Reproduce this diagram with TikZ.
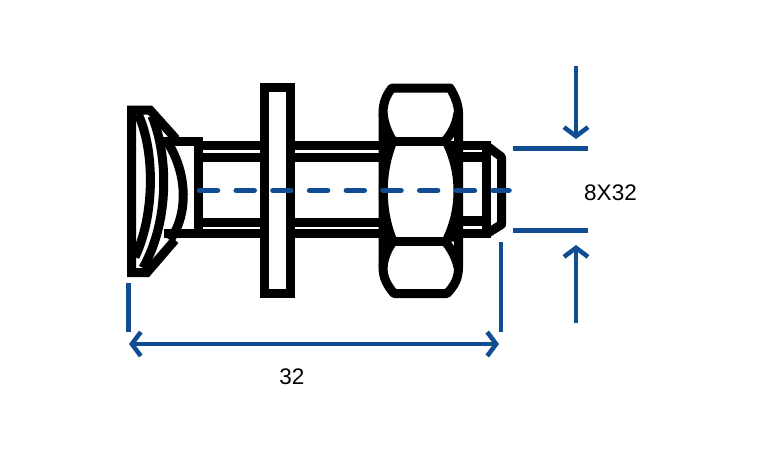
\documentclass[tikz,border=0pt]{standalone}
\usepackage{fontspec}
\setmainfont{Liberation Sans}
\usetikzlibrary{arrows.meta}
\definecolor{dimblue}{HTML}{0F4C92}
\tikzset{
  part/.style={draw=black,line width=9pt,line join=miter,fill=none},
  bar/.style={draw=black,line width=9.5pt},
  thinpart/.style={draw=black,line width=9pt,line join=round},
  dimline/.style={draw=dimblue,line width=4.5pt},
  dimarrow/.style={dimline,-{Straight Barb[length=9pt,width=24pt,line width=4.5pt]}},
  dimboth/.style={dimline,{Straight Barb[length=9pt,width=24pt,line width=4.5pt]}-{Straight Barb[length=9pt,width=24pt,line width=4.5pt]}},
  axis/.style={draw=dimblue,line width=5.5pt,line cap=round,dash pattern=on 18pt off 18.7pt},
  dimtext/.style={font=\fontsize{22.5}{26}\selectfont,text=black,inner sep=0pt}
}
\begin{document}
\begin{tikzpicture}[x=1pt,y=-1pt]
\useasboundingbox (0,0) rectangle (763,459);
% head
\draw[part] (176,139) -- (150,110) -- (131.5,110) -- (131.5,272.5) -- (147,272.5) -- (175,240);
\draw[thinpart] (138,114) .. controls (155,150) and (155,215) .. (135,257);
\draw[thinpart] (152,116) .. controls (168,155) and (170,220) .. (143,268);
\draw[thinpart] (168,143) .. controls (188,175) and (188,215) .. (170,240);
% collar and shank, left of washer
\draw[part] (161,141) -- (198.5,141) -- (198.5,230);
\draw[bar] (164,233.5) -- (262,233.5);
\draw[bar] (198,145.5) -- (262,145.5);
\draw[bar] (198,157.5) -- (262,157.5);
\draw[bar] (198,222.5) -- (262,222.5);
% washer
\draw[part] (264,87.5) rectangle (290.5,293);
% shank between washer and nut
\draw[bar] (291,145.5) -- (385,145.5);
\draw[bar] (291,157.5) -- (385,157.5);
\draw[bar] (291,222.5) -- (385,222.5);
\draw[bar] (291,233.5) -- (385,233.5);
% nut
\fill[white] (383,113) -- (392,88) -- (450,88) -- (458,113) -- (458,267) -- (450,293.5) -- (392,293.5) -- (383,267) -- cycle;
\draw[part,line join=round] (383,113)
  .. controls (383,102) and (387,94) .. (392,88) -- (450,88)
  .. controls (455,96) and (458.5,105) .. (458.5,113) -- (458.5,267)
  .. controls (458.5,278) and (455,285) .. (447,293.5) -- (394,293.5)
  .. controls (387,285) and (383,278) .. (383,267) -- cycle;
\draw[part,line join=round] (393,141) .. controls (387,132) and (384,122) .. (383,113);
\draw[part,line join=round] (445,141) .. controls (451,134) and (456,126) .. (458,113);
\draw[part,line join=round] (393,241.5) .. controls (387,250) and (384,258) .. (383,267);
\draw[part,line join=round] (445,241.5) .. controls (451,248) and (456,258) .. (458,267);
\draw[part] (392,141) -- (448,141);
\draw[part] (392,241.5) -- (448,241.5);
\fill[black] (393,141) .. controls (380,172) and (380,210) .. (393,241.5) -- (383,241.5) -- (383,141) -- cycle;
\fill[black] (446,141) .. controls (462,172) and (462,210) .. (446,241.5) -- (458,241.5) -- (458,141) -- cycle;
\draw[part,line join=round] (393,141) .. controls (380,172) and (380,210) .. (393,241.5);
\draw[part,line join=round] (446,141) .. controls (462,172) and (462,210) .. (446,241.5);
% threaded end
\draw[bar] (460,145.5) -- (488,145.5);
\draw[bar] (460,157) -- (486,157);
\draw[bar] (460,221) -- (486,221);
\draw[bar] (460,233.5) -- (488,233.5);
\draw[part] (486,141) -- (486,238);
\draw[part,line join=round] (487,146) -- (501.5,157) -- (501.5,224.5) -- (487,233.5);
% axis
\coordinate (axisL) at (199.5,190.5);
\coordinate (axisR) at (509,190.5);
\draw[axis] (axisL) -- (axisR);
% dimension 32
\coordinate (extLa) at (128.5,283);
\coordinate (extLb) at (128.5,332);
\coordinate (extRa) at (501,242);
\coordinate (extRb) at (501,332);
\coordinate (dimL) at (129,344);
\coordinate (dimR) at (499,344);
\draw[dimline] (extLa) -- (extLb);
\draw[dimline] (extRa) -- (extRb);
\draw[dimboth] (dimL) -- (dimR);
\node[dimtext] (len) at (292,377) {32};
% dimension 8X32
\coordinate (topA) at (513,148.5);
\coordinate (topB) at (588,148.5);
\coordinate (botA) at (513,230.5);
\coordinate (botB) at (588,230.5);
\draw[dimline] (topA) -- (topB);
\draw[dimline] (botA) -- (botB);
\coordinate (arrTopS) at (576,66);
\coordinate (arrTopE) at (576,139);
\coordinate (arrBotS) at (576,323);
\coordinate (arrBotE) at (576,245);
\draw[dimarrow] (arrTopS) -- (arrTopE);
\draw[dimarrow] (arrBotS) -- (arrBotE);
\node[dimtext] (dia) at (610.5,193) {8X32};
\end{tikzpicture}
\end{document}
